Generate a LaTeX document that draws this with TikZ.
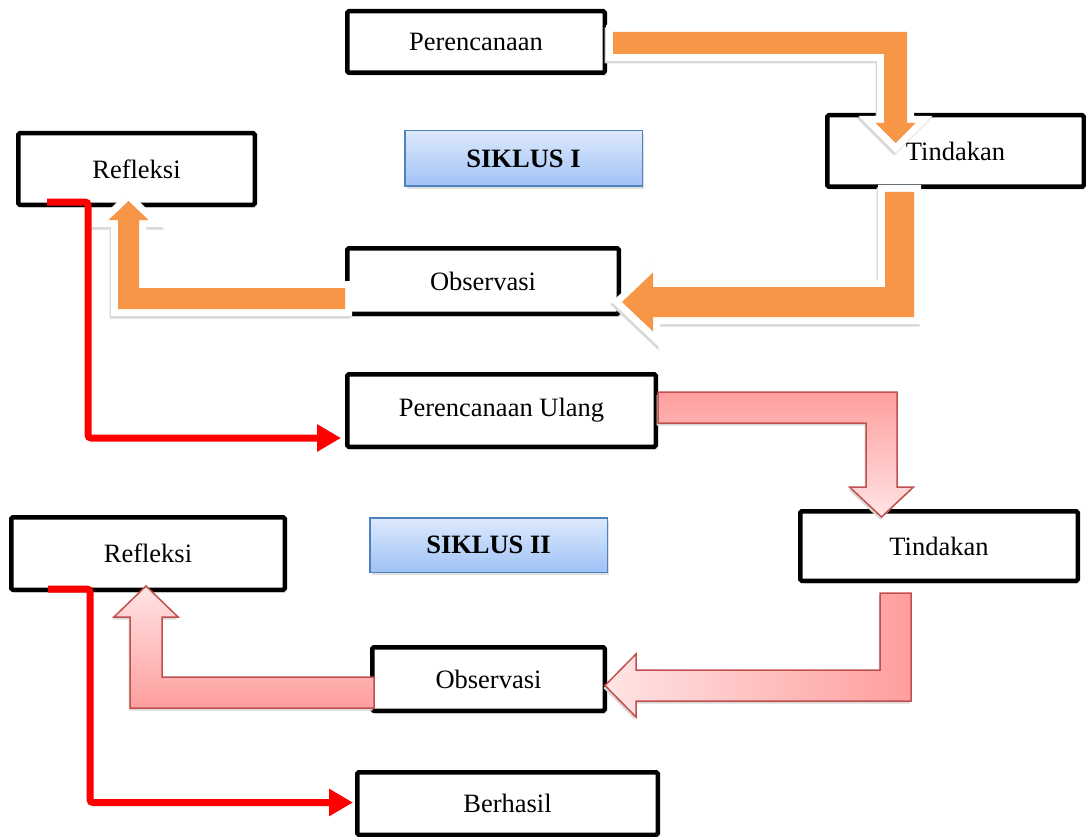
\documentclass[tikz,border=0pt]{standalone}
\usepackage{fontspec}
\setmainfont{Liberation Serif}
\usepackage{tikz}
\usetikzlibrary{positioning,arrows.meta,calc,shadows}

\definecolor{orangefill}{RGB}{247,150,70}
\definecolor{pinkdark}{RGB}{255,158,158}
\definecolor{pinklight}{RGB}{255,228,228}
\definecolor{pinkline}{RGB}{192,80,77}
\definecolor{bluetop}{RGB}{221,233,252}
\definecolor{bluebottom}{RGB}{160,194,246}
\definecolor{blueline}{RGB}{79,129,189}

\begin{document}
\begin{tikzpicture}[x=1pt,y=-1pt,
  box/.style={draw,line width=4.5pt,rounded corners=1.5pt,fill=white,inner sep=0pt,
    font=\fontsize{26.5}{32}\selectfont,
    drop shadow={opacity=0.25,shadow xshift=2pt,shadow yshift=-3pt}},
  siklus/.style={draw=blueline,line width=1.5pt,top color=bluetop,bottom color=bluebottom,
    inner sep=0pt,font=\bfseries\fontsize{26.5}{32}\selectfont,
    drop shadow={opacity=0.25,shadow xshift=2pt,shadow yshift=-3pt}},
  orangearrow/.style={fill=orangefill,line join=miter,
    preaction={draw=black!15,line width=14pt,line join=miter,
      transform canvas={xshift=-1.5pt,yshift=-2.5pt}},
    preaction={draw=white,line width=14pt,line join=miter}},
  pinkarrow/.style={draw=pinkline,line width=1.5pt,line join=miter,
    preaction={fill=black!15,transform canvas={xshift=-1.5pt,yshift=-2.5pt}}},
  redline/.style={draw=red,line width=7pt,rounded corners=3pt,
    -{Triangle[length=24pt,width=26pt]}}]

  \useasboundingbox (0,0) rectangle (1086,837);

  \node[box] (per1) [minimum width=257.5pt,minimum height=61.5pt] at (476,42) {Perencanaan};
  \node[box] (tin1) [minimum width=256.5pt,minimum height=71.5pt] at (955.5,151) {Tindakan};
  \node[box] (ref1) [minimum width=236.5pt,minimum height=71.5pt] at (136.5,169) {Refleksi};
  \node[box] (obs1) [minimum width=271.5pt,minimum height=65.5pt] at (483,281) {Observasi};
  \node[siklus] (sik1) [minimum width=237.5pt,minimum height=55.5pt] at (523.5,158.5) {SIKLUS I};

  \node[box] (peru) [minimum width=308.5pt,minimum height=72.5pt] at (501.5,410.5) {Perencanaan Ulang};
  \node[box] (tin2) [minimum width=277.5pt,minimum height=69.5pt] at (939,546) {Tindakan};
  \node[box] (ref2) [minimum width=273.5pt,minimum height=72.5pt] at (148,553.5) {Refleksi};
  \node[box] (obs2) [minimum width=232.5pt,minimum height=63.5pt] at (488.5,679) {Observasi};
  \node[siklus] (sik2) [minimum width=237.5pt,minimum height=54.5pt] at (488.5,545) {SIKLUS II};
  \node[box] (berh) [minimum width=300.5pt,minimum height=62.5pt] at (507.5,803.5) {Berhasil};

  \path[orangearrow] ($(per1.east)+(6,-10)$) -- ++(294,0) -- ++(0,91) -- ++(8.5,0)
    -- ++(-20,20) -- ++(-20,-20) -- ++(8.5,0) -- ++(0,-69) -- ++(-271,0) -- cycle;
  \path[orangearrow] ($(tin1.south)+(-70.5,3)$) -- ++(29,0) -- ++(0,125) -- ++(-261,0)
    -- ++(0,14.5) -- ++(-31,-29.5) -- ++(31,-29.5) -- ++(0,14.5) -- ++(232,0) -- cycle;
  \path[orangearrow] ($(obs1.west)+(0,7)$) -- ++(0,21) -- ++(-227,0) -- ++(0,-89)
    -- ++(-9.5,0) -- ++(20,-19) -- ++(20,19) -- ++(-9.5,0) -- ++(0,68) -- cycle;

  \path[pinkarrow,top color=pinkdark,bottom color=pinklight] ($(peru.east)+(0,-18.5)$)
    -- ++(239,0) -- ++(0,95) -- ++(16.5,0) -- ++(-32,30) -- ++(-32,-30) -- ++(16.5,0)
    -- ++(0,-64) -- ++(-208,0) -- cycle;
  \path[pinkarrow,left color=pinklight,right color=pinkdark] ($(tin2.south)+(-59,10)$)
    -- ++(31,0) -- ++(0,108) -- ++(-275,0) -- ++(0,16) -- ++(-31,-31.5) -- ++(31,-31.5)
    -- ++(0,16) -- ++(244,0) -- cycle;
  \path[pinkarrow,top color=pinklight,bottom color=pinkdark] ($(obs2.west)+(4,-2)$)
    -- ++(0,31) -- ++(-244,0) -- ++(0,-91) -- ++(-16,0) -- ++(32,-31) -- ++(32,31)
    -- ++(-16,0) -- ++(0,60) -- cycle;

  \path[redline] ($(ref1.south west)+(31,-5)$) -- ++(41,0) |- ($(peru.south west)+(-4,-11)$);
  \path[redline] ($(ref2.south west)+(39,-3)$) -- ++(42,0) |- ($(berh.west)+(-2,-1)$);

\end{tikzpicture}
\end{document}
